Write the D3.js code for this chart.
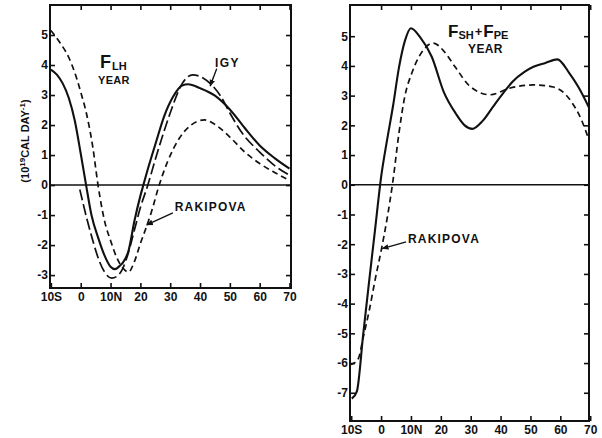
<!DOCTYPE html>
<html>
<head>
<meta charset="utf-8">
<script src="https://cdn.jsdelivr.net/npm/d3@7"></script>
<style>
  body { margin: 0; background: #fff; }
  svg text { font-family: "Liberation Sans", Arial, sans-serif; font-weight: bold; fill: #111; }
</style>
</head>
<body>
<script>
// breddegrader og tick-tekster
const xTicks = [-10, 0, 10, 20, 30, 40, 50, 60, 70];
const xTickLabels = ["10S", "0", "10N", "20", "30", "40", "50", "60", "70"];
const leftYTicks = [-3, -2, -1, 0, 1, 2, 3, 4, 5];
const rightYTicks = [-7, -6, -5, -4, -3, -2, -1, 0, 1, 2, 3, 4, 5];

// venstre panel: F_LH, year
const flhSolidLat = [-10, -8, -6, -4, -2, 0, 1.8, 3.6, 6, 8, 10, 11.5, 13, 14, 16, 18, 20, 21, 23, 25, 28, 31, 34, 36, 40, 45, 50, 55, 60, 65, 70];
const flhSolidVal = [3.85, 3.68, 3.38, 2.9, 2.15, 1.05, 0, -1.0, -1.8, -2.35, -2.72, -2.8, -2.7, -2.6, -2.2, -1.2, -0.36, 0, 0.7, 1.35, 2.3, 2.95, 3.32, 3.36, 3.23, 2.98, 2.52, 1.9, 1.32, 0.9, 0.55];

const flhIgyLat = [-0.3, 2, 4, 6, 8, 10.4, 12, 14, 16, 18, 20, 22.5, 25, 27, 30, 34, 37.5, 41, 44, 47, 50, 54, 60, 65, 70];
const flhIgyVal = [-0.15, -1.1, -1.83, -2.47, -2.9, -3.1, -3.05, -2.8, -2.25, -1.5, -0.75, 0, 0.85, 1.5, 2.4, 3.38, 3.67, 3.57, 3.33, 2.95, 2.4, 1.75, 1.1, 0.65, 0.33];

const flhRakLat = [-10, -7, -4, -2, 0, 2, 4, 5.8, 8, 10, 12, 14, 16, 18, 20, 22, 24, 26, 29, 33, 37, 41.5, 46, 50, 55, 60, 65, 70];
const flhRakVal = [5.15, 4.75, 4.25, 3.75, 3.1, 2.35, 1.3, 0, -1.2, -1.85, -2.4, -2.75, -2.9, -2.55, -1.95, -1.4, -0.8, -0.1, 0.75, 1.55, 2.0, 2.17, 1.95, 1.6, 1.1, 0.72, 0.42, 0.15];

// højre panel: F_SH + F_PE, year
const fshSolidLat = [-9.8, -8.1, -6, -4, -2, 0, 2, 4, 6, 8, 10, 13, 17, 21, 25, 28, 30.5, 34, 37.5, 41, 44, 48, 51, 55, 59, 63, 66, 69.6];
const fshSolidVal = [-7.2, -6.95, -5.05, -3.25, -1.5, 0.25, 1.5, 2.65, 3.95, 4.85, 5.27, 4.98, 4.3, 3.12, 2.4, 2.0, 1.88, 2.15, 2.63, 3.1, 3.47, 3.8, 3.97, 4.1, 4.22, 3.76, 3.3, 2.6];

const fshRakLat = [-10.4, -9, -7.6, -6, -4, -2, 0.2, 2, 4, 6, 8, 10.3, 14.2, 17.5, 21, 24.7, 29.8, 36.5, 43, 51, 57.7, 64, 67, 69.6];
const fshRakVal = [-6.05, -6.0, -5.85, -5.15, -4.25, -3.2, -2.13, -1.15, 0.15, 1.75, 3.0, 3.76, 4.54, 4.77, 4.5, 3.98, 3.31, 3.03, 3.25, 3.36, 3.29, 2.75, 2.2, 1.5];

const ink = "#111";
const svg = d3.select("body").append("svg").attr("width", 602).attr("height", 438);

const defs = svg.append("defs");
defs.append("marker")
  .attr("id", "pil")
  .attr("viewBox", "0 0 10 10")
  .attr("refX", 9).attr("refY", 5)
  .attr("markerWidth", 7).attr("markerHeight", 7)
  .attr("markerUnits", "userSpaceOnUse")
  .attr("orient", "auto")
  .append("path").attr("d", "M0,1 L10,5 L0,9 Z").attr("fill", ink);

function lavPanel(id, box, xDomain, yDomain, yTicks) {
  const x = d3.scaleLinear().domain(xDomain).range([box.left, box.right]);
  const y = d3.scaleLinear().domain(yDomain).range([box.bottom, box.top]);
  const g = svg.append("g");

  defs.append("clipPath").attr("id", "clip-" + id)
    .append("rect")
    .attr("x", box.left).attr("y", box.top)
    .attr("width", box.right - box.left).attr("height", box.bottom - box.top);

  const fmtX = d => xTickLabels[xTicks.indexOf(d)];
  const fix = a => {
    a.select(".domain").remove();
    a.selectAll(".tick line").attr("stroke", ink).attr("stroke-width", 1.6);
    a.attr("font-size", 12);
  };

  g.append("g").attr("transform", `translate(0,${box.bottom})`)
    .call(d3.axisBottom(x).tickValues(xTicks).tickFormat(fmtX).tickSize(-5).tickPadding(4)).call(fix);
  g.append("g").attr("transform", `translate(0,${box.top})`)
    .call(d3.axisTop(x).tickValues(xTicks.slice(1)).tickFormat("").tickSize(-5)).call(fix);
  g.append("g").attr("transform", `translate(${box.left},0)`)
    .call(d3.axisLeft(y).tickValues(yTicks).tickFormat(d => String(d)).tickSize(-5).tickPadding(2)).call(fix);
  g.append("g").attr("transform", `translate(${box.right},0)`)
    .call(d3.axisRight(y).tickValues(yTicks).tickFormat("").tickSize(-5)).call(fix);

  g.append("rect")
    .attr("x", box.left).attr("y", box.top)
    .attr("width", box.right - box.left).attr("height", box.bottom - box.top)
    .attr("fill", "none").attr("stroke", ink).attr("stroke-width", 2);

  g.append("line")
    .attr("x1", box.left).attr("x2", box.right)
    .attr("y1", y(0)).attr("y2", y(0))
    .attr("stroke", ink).attr("stroke-width", 1.6);

  const kurver = g.append("g").attr("clip-path", `url(#clip-${id})`);
  const line = d3.line().x(d => x(d[0])).y(d => y(d[1])).curve(d3.curveMonotoneX);

  function serie(lat, val, width, dash) {
    kurver.append("path")
      .datum(d3.zip(lat, val))
      .attr("d", line)
      .attr("fill", "none")
      .attr("stroke", ink)
      .attr("stroke-width", width)
      .attr("stroke-dasharray", dash);
  }

  function pil(fra, til) {
    g.append("line")
      .attr("x1", x(fra[0])).attr("y1", y(fra[1]))
      .attr("x2", x(til[0])).attr("y2", y(til[1]))
      .attr("stroke", ink).attr("stroke-width", 1.4)
      .attr("marker-end", "url(#pil)");
  }

  function tekst(lat, v, s, size, spacing) {
    g.append("text").attr("x", x(lat)).attr("y", y(v))
      .attr("font-size", size).attr("letter-spacing", spacing).text(s);
  }

  return { x, y, g, serie, pil, tekst };
}

// venstre panel
const venstre = lavPanel("v", { left: 50, right: 291, top: 5, bottom: 288 }, [-10.3, 70.5], [-3.43, 6], leftYTicks);
venstre.serie(flhSolidLat, flhSolidVal, 2.1, null);
venstre.serie(flhIgyLat, flhIgyVal, 1.7, "11,4");
venstre.serie(flhRakLat, flhRakVal, 1.7, "6,4");
venstre.tekst(45, 3.95, "IGY", 12, 1.5);
venstre.pil([45.6, 3.88], [43.4, 3.3]);
venstre.tekst(31.5, -0.85, "RAKIPOVA", 12, 1.2);
venstre.pil([30.9, -0.93], [22.1, -1.33]);

const tv = venstre.g.append("text").attr("x", 100).attr("y", 68);
tv.append("tspan").attr("font-size", 18).text("F");
tv.append("tspan").attr("font-size", 11).attr("dy", 2).attr("dx", 1).text("LH");
venstre.g.append("text").attr("x", 98).attr("y", 84).attr("font-size", 11).attr("letter-spacing", 0.3).text("YEAR");

const yl = venstre.g.append("text")
  .attr("transform", "translate(29,141) rotate(-90)")
  .attr("text-anchor", "middle")
  .attr("font-size", 11);
yl.append("tspan").text("(10");
yl.append("tspan").attr("font-size", 8).attr("dy", -4).text("19");
yl.append("tspan").attr("dy", 4).text("CAL DAY");
yl.append("tspan").attr("font-size", 8).attr("dy", -4).text("-1");
yl.append("tspan").attr("dy", 4).text(")");

// højre panel
const hoejre = lavPanel("h", { left: 350, right: 589, top: 5, bottom: 421 }, [-10.4, 69.6], [-7.95, 6.05], rightYTicks);
hoejre.serie(fshSolidLat, fshSolidVal, 2.1, null);
hoejre.serie(fshRakLat, fshRakVal, 1.7, "6,4");
hoejre.tekst(9.0, -1.95, "RAKIPOVA", 12, 1.2);
hoejre.pil([8.4, -1.92], [0.4, -2.15]);

const th = hoejre.g.append("text").attr("x", 448).attr("y", 37);
th.append("tspan").attr("font-size", 17).text("F");
th.append("tspan").attr("font-size", 11).attr("dy", 2).text("SH");
th.append("tspan").attr("font-size", 13).attr("dy", -3).attr("dx", 1).text("+");
th.append("tspan").attr("font-size", 17).attr("dy", 1).attr("dx", 1).text("F");
th.append("tspan").attr("font-size", 11).attr("dy", 2).text("PE");
hoejre.g.append("text").attr("x", 468).attr("y", 53).attr("font-size", 12).attr("letter-spacing", 0.4).text("YEAR");
</script>
</body>
</html>
